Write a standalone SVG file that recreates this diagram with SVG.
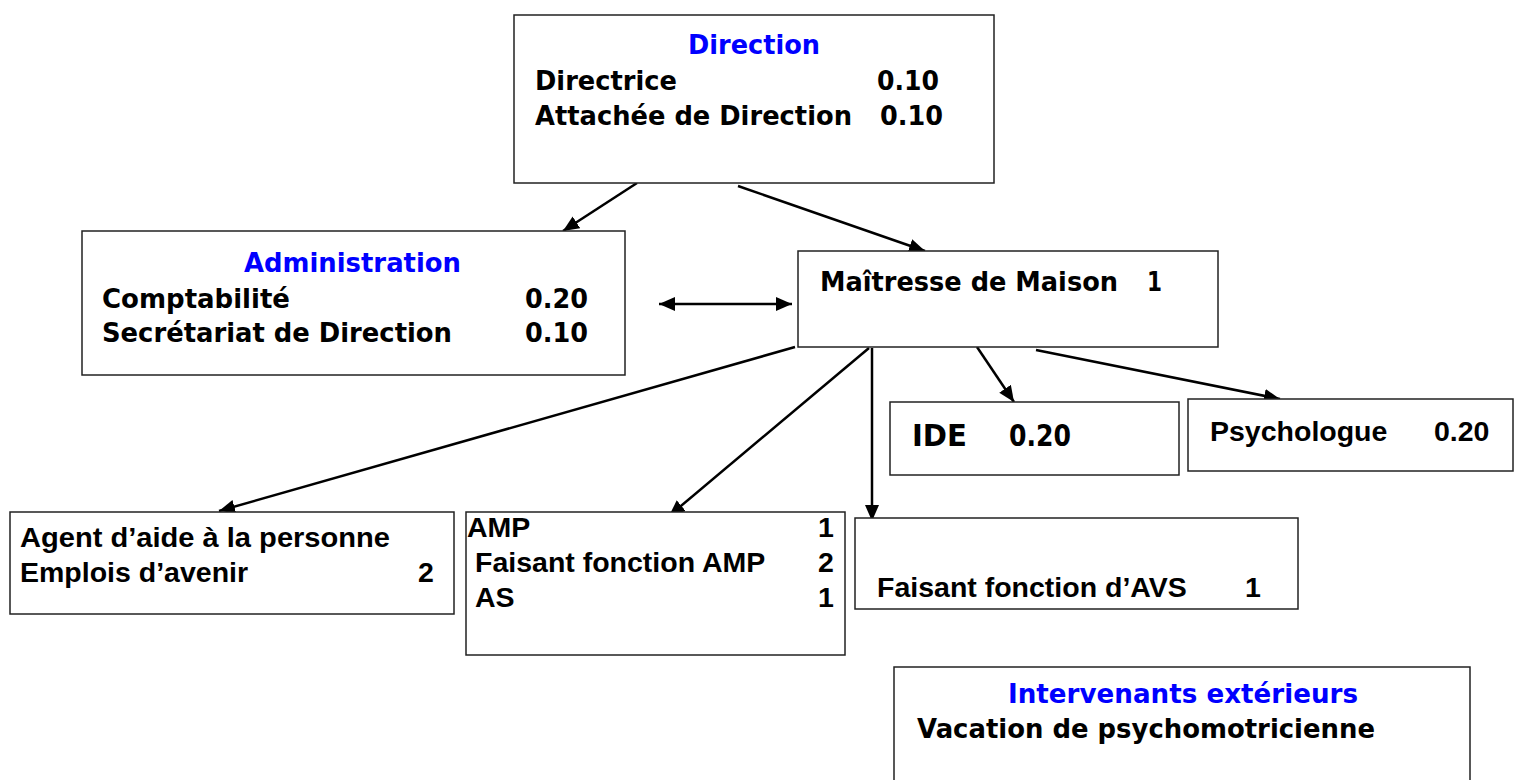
<svg xmlns="http://www.w3.org/2000/svg" width="1518" height="780" viewBox="0 0 1518 780">
<style>
.box{fill:#fff;stroke:#222;stroke-width:1.5}
.t{font-family:"DejaVu Sans",Verdana,sans-serif;font-weight:bold;font-size:27px;fill:#000}
.h{fill:#0000ff}
.a{font-family:"Liberation Sans",Arial,sans-serif;font-weight:bold;font-size:28.5px;fill:#000}
.c{fill:none;stroke:#000;stroke-width:2.5}
</style>
<defs>
<marker id="ah" markerUnits="userSpaceOnUse" markerWidth="17" markerHeight="15" refX="16" refY="7" orient="auto-start-reverse" viewBox="0 0 17 15">
<path d="M0,0 L16,7 L0,14 z" fill="#000"/>
</marker>
</defs>
<rect width="1518" height="780" fill="#fff"/>
<g id="connectors">
<path class="c" d="M637,183 L563,231" marker-end="url(#ah)"/>
<path class="c" d="M738,186 L925,251" marker-end="url(#ah)"/>
<path class="c" d="M659,304 L792,304" marker-start="url(#ah)" marker-end="url(#ah)"/>
<path class="c" d="M795,347 L219,511" marker-end="url(#ah)"/>
<path class="c" d="M869,348 L669,516" marker-end="url(#ah)"/>
<path class="c" d="M872,348 L872,521" marker-end="url(#ah)"/>
<path class="c" d="M977,347 L1014,402" marker-end="url(#ah)"/>
<path class="c" d="M1036,350 L1280,399" marker-end="url(#ah)"/>
</g>
<g id="direction">
<rect class="box" x="514" y="15" width="480" height="168"/>
<text class="t h" x="688" y="54" textLength="132" lengthAdjust="spacingAndGlyphs">Direction</text>
<text class="t" x="535" y="90" textLength="142" lengthAdjust="spacingAndGlyphs">Directrice</text>
<text class="t" x="877" y="90" textLength="62" lengthAdjust="spacingAndGlyphs">0.10</text>
<text class="t" x="535" y="125" textLength="317" lengthAdjust="spacingAndGlyphs">Attachée de Direction</text>
<text class="t" x="880" y="125" textLength="63" lengthAdjust="spacingAndGlyphs">0.10</text>
</g>
<g id="administration">
<rect class="box" x="82" y="231" width="543" height="144"/>
<text class="t h" x="244" y="272" textLength="217" lengthAdjust="spacingAndGlyphs">Administration</text>
<text class="t" x="102" y="308" textLength="188" lengthAdjust="spacingAndGlyphs">Comptabilité</text>
<text class="t" x="525" y="308" textLength="63" lengthAdjust="spacingAndGlyphs">0.20</text>
<text class="t" x="102" y="342" textLength="350" lengthAdjust="spacingAndGlyphs">Secrétariat de Direction</text>
<text class="t" x="525" y="342" textLength="63" lengthAdjust="spacingAndGlyphs">0.10</text>
</g>
<g id="maitresse">
<rect class="box" x="798" y="251" width="420" height="96"/>
<text class="t" x="820" y="291" textLength="298" lengthAdjust="spacingAndGlyphs">Maîtresse de Maison</text>
<text class="t" x="1147" y="291" textLength="15" lengthAdjust="spacingAndGlyphs">1</text>
</g>
<g id="ide">
<rect class="box" x="890" y="402" width="289" height="73"/>
<text class="t" x="912" y="446" style="font-size:30px" textLength="55" lengthAdjust="spacingAndGlyphs">IDE</text>
<text class="t" x="1009" y="446" style="font-size:30px" textLength="62" lengthAdjust="spacingAndGlyphs">0.20</text>
</g>
<g id="psychologue">
<rect class="box" x="1188" y="399" width="325" height="72"/>
<text class="a" x="1210" y="441" style="font-size:28.5px">Psychologue</text>
<text class="a" x="1434" y="441" style="font-size:28.5px">0.20</text>
</g>
<g id="agent">
<rect class="box" x="10" y="512" width="444" height="102"/>
<text class="a" x="20" y="547" textLength="370" lengthAdjust="spacingAndGlyphs">Agent d’aide à la personne</text>
<text class="a" x="20" y="582">Emplois d’avenir</text>
<text class="a" x="418" y="582">2</text>
</g>
<g id="amp">
<rect class="box" x="466" y="512" width="379" height="143"/>
<text class="a" x="467" y="537">AMP</text>
<text class="a" x="818" y="537">1</text>
<text class="a" x="475" y="572">Faisant fonction AMP</text>
<text class="a" x="818" y="572">2</text>
<text class="a" x="475" y="607">AS</text>
<text class="a" x="818" y="607">1</text>
</g>
<g id="avs">
<rect class="box" x="855" y="518" width="443" height="91"/>
<text class="a" x="877" y="597">Faisant fonction d’AVS</text>
<text class="a" x="1245" y="597">1</text>
</g>
<g id="intervenants">
<rect class="box" x="894" y="667" width="576" height="130"/>
<text class="t h" x="1008" y="703" textLength="350" lengthAdjust="spacingAndGlyphs">Intervenants extérieurs</text>
<text class="t" x="917" y="738" textLength="458" lengthAdjust="spacingAndGlyphs">Vacation de psychomotricienne</text>
</g>
</svg>
